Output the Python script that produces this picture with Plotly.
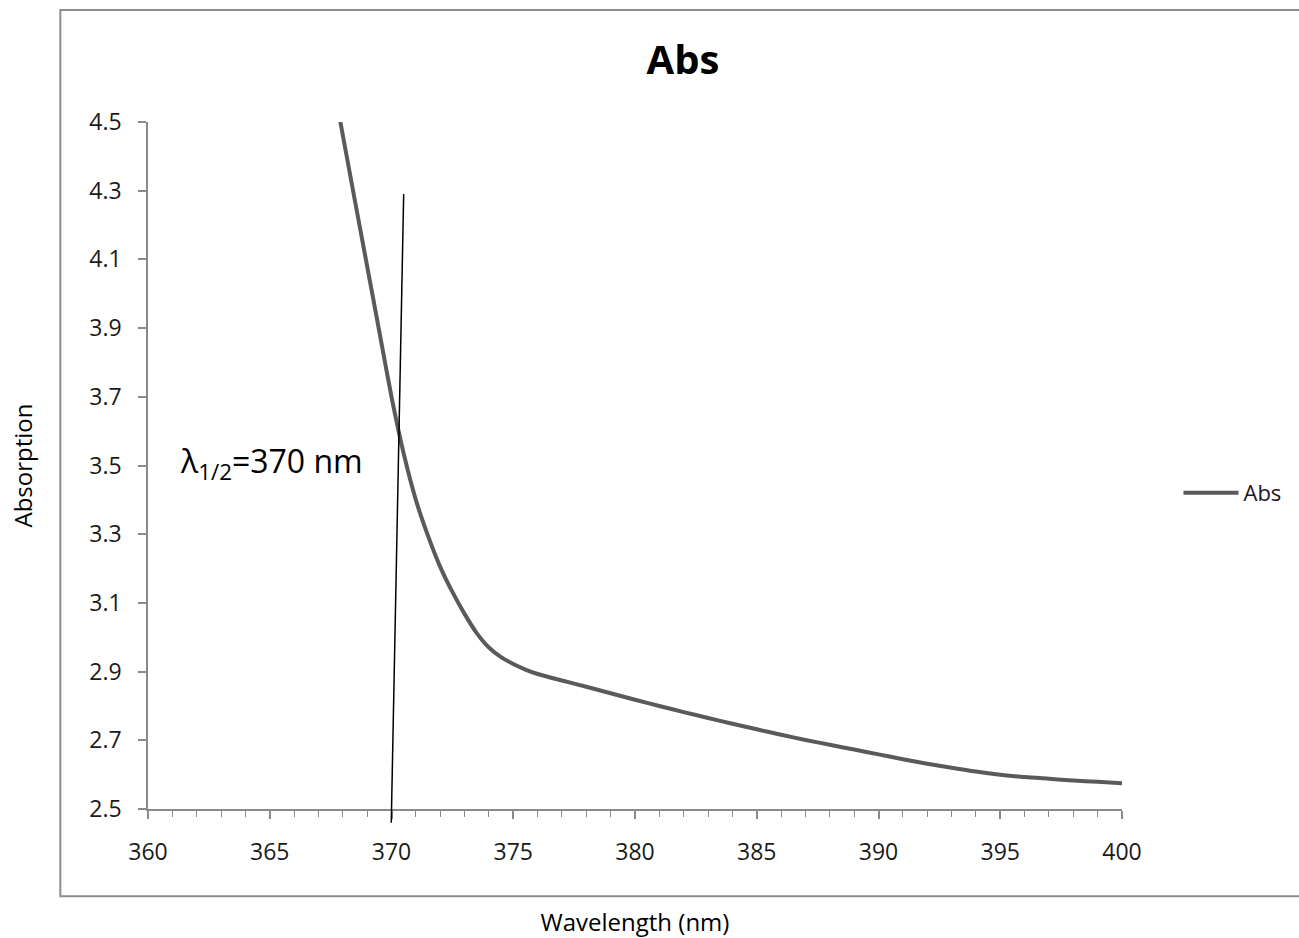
import plotly.graph_objects as go

# ---- data ----
wavelength = [367.9, 368.5, 369.0, 369.5, 370.0, 370.5, 371.0, 371.5, 372.0, 372.5,
              373.0, 373.5, 374.0, 374.5, 375.0, 375.5, 376.0, 377.0, 378.0, 379.0,
              380.0, 381.0, 382.0, 383.0, 384.0, 385.0, 386.0, 387.0, 388.0, 389.0,
              390.0, 391.0, 392.0, 393.0, 394.0, 395.0, 396.0, 397.0, 398.0, 399.0, 400.0]
absorption = [4.50, 4.27, 4.08, 3.89, 3.70, 3.535, 3.40, 3.295, 3.205, 3.132,
              3.068, 3.012, 2.970, 2.942, 2.922, 2.906, 2.893, 2.874, 2.856, 2.837,
              2.818, 2.800, 2.782, 2.765, 2.748, 2.732, 2.716, 2.701, 2.687, 2.673,
              2.659, 2.645, 2.632, 2.620, 2.609, 2.600, 2.593, 2.588, 2.583, 2.579, 2.575]

# hand-drawn marker line for lambda 1/2
marker_x = [369.99, 370.50]
marker_y = [2.46, 4.29]

x_range = [360, 400]
y_range = [2.5, 4.5]
x_ticks = [360, 365, 370, 375, 380, 385, 390, 395, 400]
y_ticks = [2.5, 2.7, 2.9, 3.1, 3.3, 3.5, 3.7, 3.9, 4.1, 4.3, 4.5]

FONT = "Open Sans"
AXIS_GREY = "#8a8a8a"
TEXT = "#1a1a1a"
W, H = 1299, 938

fig = go.Figure()
fig.add_trace(go.Scatter(
    x=wavelength, y=absorption, mode="lines", name="Abs",
    line=dict(color="#5a5a5a", width=4, shape="spline", smoothing=0.7),
))

def ypaper(v):
    return (v - y_range[0]) / (y_range[1] - y_range[0])

fig.add_shape(type="line", xref="x", yref="paper",
              x0=marker_x[0], y0=ypaper(marker_y[0]),
              x1=marker_x[1], y1=ypaper(marker_y[1]),
              line=dict(color="black", width=1.5))

# outer chart-area frame
fig.add_shape(type="rect", xref="paper", yref="paper",
              x0=-0.09, y0=-0.127, x1=1.19, y1=1.163,
              line=dict(color="#8c8c8c", width=2), layer="below")

fig.add_annotation(x=361.25, y=3.507, xref="x", yref="y",
                   text="λ<sub>1/2</sub>=370 nm", showarrow=False,
                   xanchor="left", yanchor="middle",
                   font=dict(family=FONT, size=32, color="black"))

fig.update_layout(
    width=W, height=H,
    paper_bgcolor="white", plot_bgcolor="white",
    margin=dict(l=148, r=177, t=122, b=129, autoexpand=False),
    title=dict(text="<b>Abs</b>", x=683 / W, xref="container", xanchor="center",
               y=1 - 60 / H, yref="container", yanchor="middle",
               font=dict(family=FONT, size=40, color="black")),
    font=dict(family=FONT, color=TEXT),
    showlegend=True,
    legend=dict(x=1.058, y=0.46, xanchor="left", yanchor="middle",
                bgcolor="rgba(0,0,0,0)", itemwidth=55,
                font=dict(family=FONT, size=22, color=TEXT)),
    xaxis=dict(range=x_range, tickmode="array", tickvals=x_ticks,
               ticktext=[str(v) for v in x_ticks], automargin=False,
               showgrid=False, zeroline=False, showline=True,
               linecolor=AXIS_GREY, linewidth=1.5,
               ticks="outside", ticklen=8, tickcolor=AXIS_GREY, tickwidth=1.5,
               ticklabelstandoff=14,
               minor=dict(dtick=1, tick0=360, ticks="outside", ticklen=6,
                          tickcolor=AXIS_GREY, tickwidth=1, showgrid=False),
               tickfont=dict(family=FONT, size=23, color=TEXT),
               title=dict(text="Wavelength (nm)", standoff=53,
                          font=dict(family=FONT, size=24, color="black"))),
    yaxis=dict(range=y_range, tickmode="array", tickvals=y_ticks,
               ticktext=[f"{v:.1f}" for v in y_ticks], automargin=False,
               showgrid=False, zeroline=False, showline=True,
               linecolor=AXIS_GREY, linewidth=1.5,
               ticks="outside", ticklen=8, tickcolor=AXIS_GREY, tickwidth=1.5,
               ticklabelstandoff=12,
               tickfont=dict(family=FONT, size=23, color=TEXT),
               title=dict(text="Absorption", standoff=50,
                          font=dict(family=FONT, size=24, color="black"))),
)

fig.write_html("out.html", config={"displayModeBar": False},
               post_script="document.body.style.margin='0';document.body.style.overflow='hidden';")
